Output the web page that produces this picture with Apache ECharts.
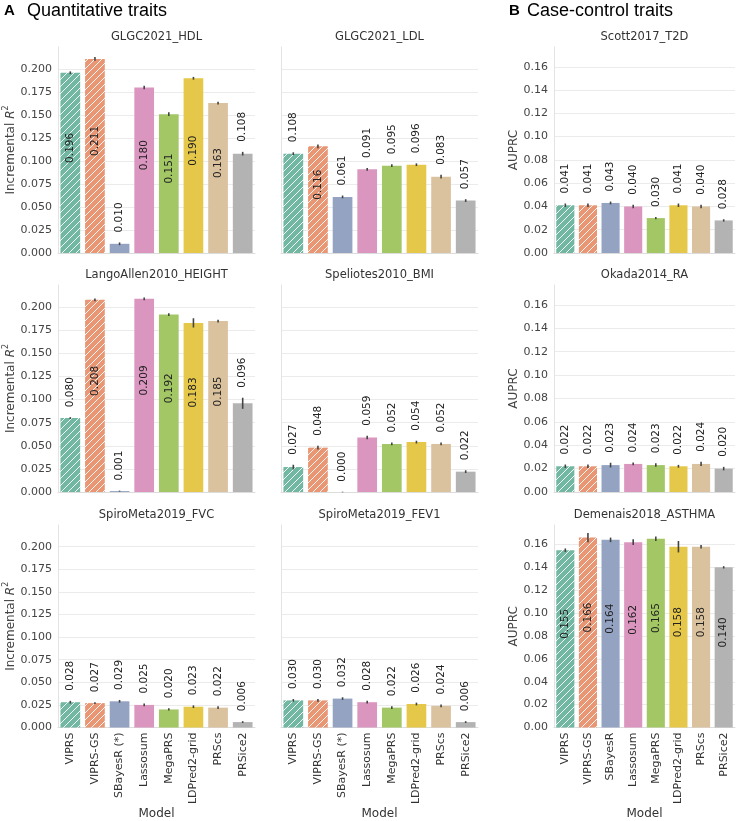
<!DOCTYPE html>
<html><head><meta charset="utf-8">
<script src="https://cdn.jsdelivr.net/npm/echarts@6/dist/echarts.min.js"></script>
<style>html,body{margin:0;padding:0;background:#fff}#c{width:736px;height:821px}</style>
</head><body><div id="c"></div><script>
const modelsQuant = ['VIPRS','VIPRS-GS','SBayesR (*)','Lassosum','MegaPRS','LDPred2-grid','PRScs','PRSice2'];
const modelsCC = ['VIPRS','VIPRS-GS','SBayesR','Lassosum','MegaPRS','LDPred2-grid','PRScs','PRSice2'];

const hdl    = [0.196, 0.211, 0.010, 0.180, 0.151, 0.190, 0.163, 0.108];
const ldl    = [0.108, 0.116, 0.061, 0.091, 0.095, 0.096, 0.083, 0.057];
const t2d    = [0.041, 0.041, 0.043, 0.040, 0.030, 0.041, 0.040, 0.028];
const height = [0.080, 0.208, 0.001, 0.209, 0.192, 0.183, 0.185, 0.096];
const bmi    = [0.027, 0.048, 0.000, 0.059, 0.052, 0.054, 0.052, 0.022];
const ra     = [0.022, 0.022, 0.023, 0.024, 0.023, 0.022, 0.024, 0.020];
const fvc    = [0.028, 0.027, 0.029, 0.025, 0.020, 0.023, 0.022, 0.006];
const fev1   = [0.030, 0.030, 0.032, 0.028, 0.022, 0.026, 0.024, 0.006];
const asthma = [0.155, 0.166, 0.164, 0.162, 0.165, 0.158, 0.158, 0.140];

const hdlErr    = [0.0015, 0.002, 0.0015, 0.002, 0.002, 0.0015, 0.0015, 0.002];
const ldlErr    = [0.0015, 0.002, 0.0015, 0.0015, 0.0015, 0.0015, 0.002, 0.0015];
const t2dErr    = [0.0015, 0.0015, 0.0012, 0.0015, 0.001, 0.0015, 0.0015, 0.001];
const heightErr = [0.001, 0.0015, 0.0005, 0.0015, 0.0015, 0.005, 0.0015, 0.006];
const bmiErr    = [0.0025, 0.002, 0.0003, 0.002, 0.0015, 0.0015, 0.0015, 0.0015];
const raErr     = [0.0015, 0.0015, 0.002, 0.0012, 0.0015, 0.0012, 0.0018, 0.0015];
const fvcErr    = [0.0015, 0.001, 0.0015, 0.0015, 0.0012, 0.0015, 0.0015, 0.001];
const fev1Err   = [0.0015, 0.0015, 0.0015, 0.0015, 0.0015, 0.0015, 0.0015, 0.001];
const asthmaErr = [0.0015, 0.004, 0.002, 0.0025, 0.002, 0.005, 0.0015, 0.001];

const quantMax = 0.224, quantInterval = 0.025;
const ccMax = 0.177, ccInterval = 0.02;

const panels = [
  {title:'GLGC2021_HDL', vals:hdl, err:hdlErr, cats:modelsQuant, row:0, col:0},
  {title:'GLGC2021_LDL', vals:ldl, err:ldlErr, cats:modelsQuant, row:0, col:1},
  {title:'Scott2017_T2D', vals:t2d, err:t2dErr, cats:modelsCC, row:0, col:2},
  {title:'LangoAllen2010_HEIGHT', vals:height, err:heightErr, cats:modelsQuant, row:1, col:0},
  {title:'Speliotes2010_BMI', vals:bmi, err:bmiErr, cats:modelsQuant, row:1, col:1},
  {title:'Okada2014_RA', vals:ra, err:raErr, cats:modelsCC, row:1, col:2},
  {title:'SpiroMeta2019_FVC', vals:fvc, err:fvcErr, cats:modelsQuant, row:2, col:0},
  {title:'SpiroMeta2019_FEV1', vals:fev1, err:fev1Err, cats:modelsQuant, row:2, col:1},
  {title:'Demenais2018_ASTHMA', vals:asthma, err:asthmaErr, cats:modelsCC, row:2, col:2}
];

const colors = ['#71b7a1','#e99675','#95a3c3','#db96c0','#a2c764','#e5c849','#dbc29e','#b3b3b3'];

function hatch(color){
  const s = 7;
  const c = document.createElement('canvas');
  c.width = s; c.height = s;
  const g = c.getContext('2d');
  g.fillStyle = color; g.fillRect(0,0,s,s);
  g.strokeStyle = 'rgba(255,255,255,0.9)';
  g.lineWidth = 1;
  g.beginPath();
  g.moveTo(0,s); g.lineTo(s,0);
  g.moveTo(-1,1); g.lineTo(1,-1);
  g.moveTo(s-1,s+1); g.lineTo(s+1,s-1);
  g.stroke();
  return {image:c, repeat:'repeat'};
}
const fills = colors.map((c,i)=> i<2 ? hatch(c) : c);

const colLeft = [58, 281, 554], colW = [197, 197, 181];
const rowTop = [47, 285, 525], rowH = [206, 207, 207];
const FONT = 'DejaVu Sans';

const grids=[], xAxes=[], yAxes=[], series=[], graphics=[];
panels.forEach((p,i)=>{
  const cc = p.col===2;
  const ymax = cc ? ccMax : quantMax;
  const pxPer = rowH[p.row]/ymax;
  grids.push({left:colLeft[p.col], top:rowTop[p.row], width:colW[p.col], height:rowH[p.row], containLabel:false});
  xAxes.push({
    gridIndex:i, type:'category', data:p.cats,
    axisLine:{show:true, lineStyle:{color:'#dcdcdc', width:1}},
    axisTick:{show:false},
    axisLabel:{show:p.row===2, rotate:90, fontSize:11, color:'#333', margin:5, fontFamily:FONT},
    name: p.row===2 ? 'Model' : '', nameLocation:'middle', nameGap:73,
    nameTextStyle:{fontSize:12, color:'#333', fontFamily:FONT}
  });
  const showLab = p.col!==1;
  yAxes.push({
    gridIndex:i, type:'value', min:0, max:ymax, interval: cc ? ccInterval : quantInterval,
    axisLine:{show:true, lineStyle:{color:'#e3e3e3', width:1}},
    axisTick:{show:false},
    axisLabel:{show:showLab, showMaxLabel:false, fontSize:11, color:'#444', margin:6, fontFamily:FONT,
      formatter: v => v.toFixed(cc?2:3)},
    splitLine:{show:true, showMaxLine:false, lineStyle:{color:'#ebebeb', width:1}},
    name: p.col===0 ? '{a|Incremental }{b|R}{c|2}' : (p.col===2 ? 'AUPRC' : ''),
    nameLocation:'middle', nameGap: p.col===0 ? 41 : 32, nameRotate:90,
    nameTextStyle:{fontSize:12, color:'#444', fontFamily:FONT,
      rich:{a:{fontSize:12, color:'#444', fontFamily:FONT, lineHeight:15, verticalAlign:'bottom'},
            b:{fontSize:12, color:'#444', fontFamily:FONT, fontStyle:'italic', lineHeight:15, verticalAlign:'bottom'},
            c:{fontSize:8, color:'#444', fontFamily:FONT, lineHeight:15, verticalAlign:'top'}}}
  });
  series.push({
    type:'bar', xAxisIndex:i, yAxisIndex:i, barCategoryGap:'20%',
    data: p.vals.map((v,j)=>{
      const inside = v > ymax*0.5;
      return {
        value:v,
        itemStyle:{color:fills[j]},
        label: inside ?
          {show:true, position:['50%','50%'], rotate:90, align:'left', verticalAlign:'middle', distance:0} :
          {show:true, position:'top', distance: 10 + p.err[j]*pxPer, rotate:90, align:'left', verticalAlign:'middle'}
      };
    }),
    label:{show:true, fontSize:10.5, color:'#222', fontFamily:FONT, formatter: d => d.value.toFixed(3)},
    silent:true, animation:false
  });
  series.push({
    type:'custom', xAxisIndex:i, yAxisIndex:i, silent:true, animation:false, z:5,
    data: p.err.map((e,j)=>[j, p.vals[j]-e, p.vals[j]+e]),
    encode:{x:0, y:[1,2]},
    renderItem:(params, api)=>{
      const a = api.coord([api.value(0), api.value(1)]);
      const b = api.coord([api.value(0), api.value(2)]);
      return {type:'line', shape:{x1:a[0], y1:a[1], x2:b[0], y2:b[1]}, style:{stroke:'#444', lineWidth:1.6}};
    }
  });
  graphics.push({type:'text', x:colLeft[p.col]+colW[p.col]/2, y:rowTop[p.row]-10,
    style:{text:p.title, textAlign:'center', textVerticalAlign:'middle', fontSize:11.5, fontFamily:FONT, fill:'#333'}});
});

graphics.push({type:'text', x:4, y:11, style:{text:'A', fontSize:15, fontWeight:'bold', fontFamily:'Liberation Sans', fill:'#000', textVerticalAlign:'middle'}});
graphics.push({type:'text', x:27, y:11, style:{text:'Quantitative traits', fontSize:18, fontFamily:'Liberation Sans', fill:'#000', textVerticalAlign:'middle'}});
graphics.push({type:'text', x:509, y:11, style:{text:'B', fontSize:15, fontWeight:'bold', fontFamily:'Liberation Sans', fill:'#000', textVerticalAlign:'middle'}});
graphics.push({type:'text', x:527, y:11, style:{text:'Case-control traits', fontSize:18, fontFamily:'Liberation Sans', fill:'#000', textVerticalAlign:'middle'}});

const chart = echarts.init(document.getElementById('c'), null, {renderer:'canvas'});
chart.setOption({
  backgroundColor:'#fff', animation:false,
  grid:grids, xAxis:xAxes, yAxis:yAxes, series:series, graphic:graphics
});
</script></body></html>
